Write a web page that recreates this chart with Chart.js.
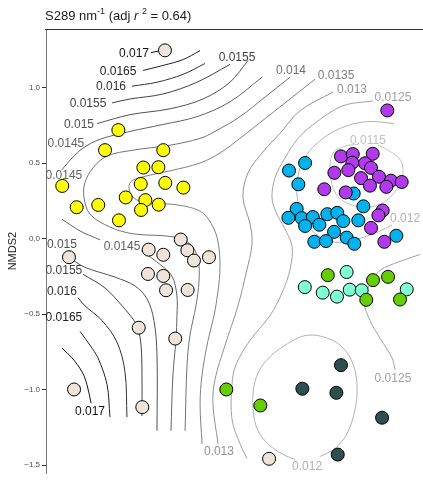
<!DOCTYPE html>
<html><head><meta charset="utf-8">
<script src="https://cdn.jsdelivr.net/npm/chart.js@4/dist/chart.umd.min.js"></script>
<style>
html,body{margin:0;padding:0;background:#fff;overflow:hidden;}
#wrap{position:relative;width:423px;height:480px;}
#title{position:absolute;left:45px;top:8px;font-family:"Liberation Sans",Arial,Helvetica,sans-serif;font-size:13px;line-height:16px;color:#1a1a1a;white-space:nowrap;}
#title sup{font-size:9px;vertical-align:6px;line-height:0;}
canvas{position:absolute;left:0;top:0;}
</style></head><body>
<div id="wrap"><canvas id="c" width="423" height="480"></canvas>
<div id="title">S289 nm<sup>-1</sup> (adj <i>r</i> <sup>2</sup> = 0.64)</div></div>
<script>
const FONT = '"Liberation Sans", Arial, Helvetica, sans-serif';

// ---- sample groups (NMDS1, NMDS2) ----
const beigeX  = [-0.224,-0.850,-0.330,-0.235,-0.121,-0.078,-0.035,0.063,-0.335,-0.235,-0.217,-0.076,-0.395,-0.157,-0.817,-0.372,0.455];
const beigeY  = [1.248,-0.122,-0.072,-0.106,-0.005,-0.076,-0.144,-0.122,-0.233,-0.246,-0.341,-0.339,-0.589,-0.661,-0.998,-1.115,-1.457];
const yellowX = [-0.528,-0.615,-0.235,-0.365,-0.267,-0.894,-0.382,-0.222,-0.104,-0.800,-0.659,-0.480,-0.352,-0.380,-0.265,-0.524];
const yellowY = [0.720,0.587,0.587,0.472,0.474,0.350,0.363,0.370,0.339,0.209,0.224,0.274,0.256,0.191,0.226,0.122];
const purpleX = [1.226,0.924,1.001,1.131,0.998,1.081,1.120,0.972,0.881,1.055,1.172,1.250,1.320,1.113,1.220,0.815,0.955,1.196,1.168,1.120,1.207];
const purpleY = [0.850,0.546,0.561,0.563,0.504,0.500,0.470,0.455,0.437,0.402,0.411,0.385,0.376,0.352,0.344,0.328,0.307,0.187,0.155,0.072,-0.020];
const blueX   = [0.690,0.585,0.646,1.007,1.070,0.635,0.581,0.668,0.740,0.835,0.900,0.690,0.783,0.939,1.037,0.879,0.961,0.750,0.826,1.011,1.285];
const blueY   = [0.502,0.452,0.361,0.300,0.215,0.198,0.139,0.137,0.144,0.163,0.172,0.085,0.093,0.117,0.122,0.046,0.008,-0.020,-0.015,-0.033,0.020];
const greenX  = [0.838,1.133,1.231,1.089,1.309,0.176,0.398];
const greenY  = [-0.241,-0.274,-0.252,-0.404,-0.402,-0.998,-1.104];
const aquaX   = [0.961,0.688,0.805,0.898,0.981,1.059,1.353];
const aquaY   = [-0.220,-0.320,-0.357,-0.383,-0.337,-0.341,-0.335];
const slateX  = [0.924,0.672,0.894,1.192,0.903];
const slateY  = [-0.837,-0.993,-1.020,-1.185,-1.429];

// ---- fitted surface contours (level, path points) ----
const c170a = [[-0.315,1.233],[-0.269,1.243],[-0.224,1.252]];
const c170b = [[-0.896,-0.724],[-0.830,-0.789],[-0.765,-0.881],[-0.733,-0.965],[-0.706,-1.089]];
const c165a = [[-0.367,1.115],[-0.237,1.148],[-0.106,1.187],[0.005,1.246]];
const c165b = [[-0.778,-0.613],[-0.713,-0.705],[-0.661,-0.789],[-0.602,-0.965],[-0.583,-1.181]];
const c160a = [[-0.439,1.011],[-0.276,1.037],[-0.106,1.089],[0.037,1.161]];
const c160b = [[-0.791,-0.391],[-0.746,-0.444],[-0.635,-0.541],[-0.537,-0.685],[-0.485,-0.881],[-0.472,-1.181]];
const c155a = [[-0.569,0.900],[-0.452,0.926],[-0.237,0.959],[-0.015,1.037],[0.200,1.155]];
const c155b = [[-0.759,-0.235],[-0.615,-0.326],[-0.504,-0.444],[-0.426,-0.541],[-0.400,-0.594],[-0.380,-0.705],[-0.374,-0.900],[-0.374,-1.174]];
const c150a = [[-0.667,0.763],[-0.452,0.822],[-0.191,0.861],[0.024,0.926],[0.200,1.037],[0.318,1.181]];
const c150b = [[-0.850,-0.124],[-0.746,-0.189],[-0.550,-0.254],[-0.419,-0.313],[-0.341,-0.398],[-0.296,-0.541],[-0.276,-0.770],[-0.276,-1.272]];
const c145a = [[-0.896,0.457],[-0.830,0.535],[-0.759,0.600],[-0.648,0.659],[-0.452,0.711],[-0.237,0.757],[-0.015,0.809],[0.200,0.907],[0.409,1.070]];
const c145b = [[-0.896,0.130],[-0.778,0.052],[-0.648,-0.007]];
const c145c = [[-0.380,-0.078],[-0.256,-0.170],[-0.178,-0.248],[-0.146,-0.378],[-0.146,-0.509],[-0.152,-0.665],[-0.172,-0.900],[-0.185,-1.272]];
const c140 = [[0.592,1.070],[0.429,0.939],[0.265,0.809],[0.102,0.711],[0.005,0.665],[-0.191,0.620],[-0.432,0.587],[-0.602,0.548],[-0.693,0.470],[-0.746,0.372],[-0.752,0.274],[-0.713,0.163],[-0.583,0.078],[-0.432,0.033],[-0.172,0.013],[-0.061,-0.033],[-0.009,-0.130],[-0.002,-0.280],[-0.022,-0.444],[-0.061,-0.639],[-0.080,-0.835],[-0.093,-1.272]];
const c135 = [[0.755,1.057],[0.592,0.926],[0.429,0.796],[0.265,0.665],[0.135,0.568],[0.005,0.502],[-0.191,0.450],[-0.341,0.417],[-0.439,0.385],[-0.459,0.339],[-0.432,0.274],[-0.341,0.235],[-0.172,0.228],[0.005,0.183],[0.083,0.091],[0.122,-0.020],[0.135,-0.183],[0.122,-0.346],[0.096,-0.509],[0.057,-0.672],[0.018,-0.900],[0.005,-1.096],[0.018,-1.357]];
const c130 = [[0.872,0.972],[0.657,0.848],[0.526,0.698],[0.409,0.568],[0.318,0.437],[0.285,0.274],[0.331,0.098],[0.344,-0.033],[0.305,-0.228],[0.252,-0.444],[0.168,-0.705],[0.102,-0.933],[0.089,-1.096],[0.122,-1.357]];
const c125a = [[1.133,0.913],[0.937,0.881],[0.768,0.776],[0.644,0.665],[0.559,0.535],[0.494,0.404],[0.474,0.274],[0.500,0.176],[0.559,0.065],[0.605,-0.052],[0.592,-0.202],[0.539,-0.359],[0.461,-0.509],[0.331,-0.672],[0.239,-0.835],[0.213,-0.965],[0.213,-1.194],[0.265,-1.357],[0.311,-1.455]];
const c125b = [[1.440,-0.104],[1.309,-0.150],[1.179,-0.209],[1.113,-0.300],[1.074,-0.411],[1.113,-0.541],[1.179,-0.659],[1.257,-0.789],[1.277,-0.868]];
const c120a = [[1.270,0.763],[1.094,0.776],[0.918,0.731],[0.768,0.633],[0.676,0.515],[0.637,0.372],[0.644,0.241],[0.689,0.111],[0.787,0.013],[0.918,-0.026],[1.061,0.007],[1.166,0.046],[1.257,0.091]];
const c120b = [[0.787,-1.442],[0.885,-1.389],[0.963,-1.292],[1.016,-1.129],[1.029,-0.985],[1.009,-0.848],[0.950,-0.737],[0.853,-0.665],[0.703,-0.639],[0.559,-0.705],[0.429,-0.815],[0.363,-0.946],[0.350,-1.129],[0.383,-1.272],[0.461,-1.370],[0.559,-1.435],[0.624,-1.461]];
const c115 = [[1.035,0.626],[0.950,0.613],[0.872,0.568],[0.853,0.437],[0.892,0.294],[0.983,0.228],[1.113,0.209],[1.244,0.274],[1.322,0.404],[1.316,0.515],[1.231,0.587],[1.166,0.620]];

const contourLevels = [0.017,0.017,0.0165,0.0165,0.016,0.016,0.0155,0.0155,0.015,0.015,0.0145,0.0145,0.0145,0.014,0.0135,0.013,0.0125,0.0125,0.012,0.012,0.0115];
const contourPaths  = [c170a,c170b,c165a,c165b,c160a,c160b,c155a,c155b,c150a,c150b,c145a,c145b,c145c,c140,c135,c130,c125a,c125b,c120a,c120b,c115];

// ---- contour labels ----
const labelText  = ['0.017','0.0165','0.016','0.0155','0.015','0.0145','0.0145','0.015','0.0155','0.016','0.0165','0.017','0.0145','0.0155','0.014','0.0135','0.013','0.0125','0.0115','0.012','0.0125','0.013','0.012'];
const labelLevel = [0.017,0.0165,0.016,0.0155,0.015,0.0145,0.0145,0.015,0.0155,0.016,0.0165,0.017,0.0145,0.0155,0.014,0.0135,0.013,0.0125,0.0115,0.012,0.0125,0.013,0.012];
const labelX     = [-0.426,-0.530,-0.576,-0.726,-0.785,-0.870,-0.883,-0.896,-0.883,-0.896,-0.883,-0.713,-0.504,0.246,0.598,0.892,0.996,1.263,1.100,1.342,1.263,0.128,0.703];
const labelY     = [1.226,1.109,1.005,0.894,0.757,0.633,0.417,-0.039,-0.209,-0.352,-0.522,-1.148,-0.052,1.200,1.115,1.083,0.985,0.933,0.652,0.130,-0.926,-1.409,-1.507];

// ---- axis ----
const yTickValues = [-1.5,-1.0,-0.5,0.0,0.5,1.0];
const yTickLabels = ['\u22121.5','\u22121.0','\u22120.5','0.0','0.5','1.0'];

function levelGray(lv){
  const g = Math.round(17 + (0.017 - lv) / 0.0005 * 16);
  return 'rgb(' + g + ',' + g + ',' + g + ')';
}
function pts(xs, ys){ return xs.map((x,i)=>({x:x, y:ys[i]})); }

const groups = [
  {xs:beigeX,  ys:beigeY,  color:'#EDE4DC', order:7},
  {xs:yellowX, ys:yellowY, color:'#FFFF00', order:6},
  {xs:aquaX,   ys:aquaY,   color:'#7FFFD4', order:5},
  {xs:blueX,   ys:blueY,   color:'#00B2EE', order:4},
  {xs:greenX,  ys:greenY,  color:'#66CD00', order:3},
  {xs:purpleX, ys:purpleY, color:'#B23AEE', order:2},
  {xs:slateX,  ys:slateY,  color:'#2F4F4F', order:1}
];

const datasets = [];
contourPaths.forEach((p,i)=>{
  datasets.push({
    data: p.map(q=>({x:q[0], y:q[1]})),
    showLine:true, borderColor: levelGray(contourLevels[i]), borderWidth:1,
    pointRadius:0, pointHoverRadius:0, tension:0.35, fill:false, order:20
  });
});
groups.forEach(g=>{
  datasets.push({
    data: pts(g.xs, g.ys), showLine:false,
    backgroundColor:g.color, borderColor:'#000', borderWidth:1,
    pointRadius:6.5, pointHoverRadius:6.5, order:g.order
  });
});

const extras = {
  id:'extras',
  beforeDatasetsDraw(chart){
    const ctx = chart.ctx, xs = chart.scales.x, ys = chart.scales.y;
    ctx.save();
    ctx.font = '12px ' + FONT;
    ctx.textAlign = 'center'; ctx.textBaseline = 'middle';
    labelText.forEach((t,i)=>{
      ctx.fillStyle = levelGray(labelLevel[i]);
      ctx.fillText(t, xs.getPixelForValue(labelX[i]), ys.getPixelForValue(labelY[i]));
    });
    ctx.restore();
  },
  afterDraw(chart){
    const ctx = chart.ctx, a = chart.chartArea;
    ctx.save();
    ctx.strokeStyle = '#333'; ctx.lineWidth = 1;
    ctx.beginPath(); ctx.moveTo(a.left - 1, a.top + 0.5); ctx.lineTo(a.right, a.top + 0.5); ctx.stroke();
    ctx.restore();
  }
};

new Chart(document.getElementById('c'), {
  type:'scatter',
  data:{datasets:datasets},
  options:{
    responsive:false, devicePixelRatio:1, animation:false, events:[],
    layout:{padding:{top:29,left:0,right:0,bottom:0}, autoPadding:false},
    plugins:{legend:{display:false}, tooltip:{enabled:false}, title:{display:false}},
    scales:{
      x:{type:'linear', min:-1.0, max:1.459, display:false},
      y:{type:'linear', min:-1.5525, max:1.3894,
        afterBuildTicks:(s)=>{ s.ticks = yTickValues.map(v=>({value:v})); },
        afterFit:(s)=>{ s.width = 46; },
        ticks:{callback:(v)=>{ const k = yTickValues.indexOf(v); return k >= 0 ? yTickLabels[k] : ''; },
               font:{size:8, family:FONT}, color:'#4d4d4d', padding:2},
        grid:{display:true, drawOnChartArea:false, drawTicks:true, tickLength:4, tickColor:'#333', tickWidth:1},
        border:{display:true, color:'#777', width:1},
        title:{display:true, text:'NMDS2', font:{size:11, family:FONT}, color:'#1a1a1a', padding:{top:6, bottom:0}}
      }
    }
  },
  plugins:[extras]
});
</script>
</body></html>
